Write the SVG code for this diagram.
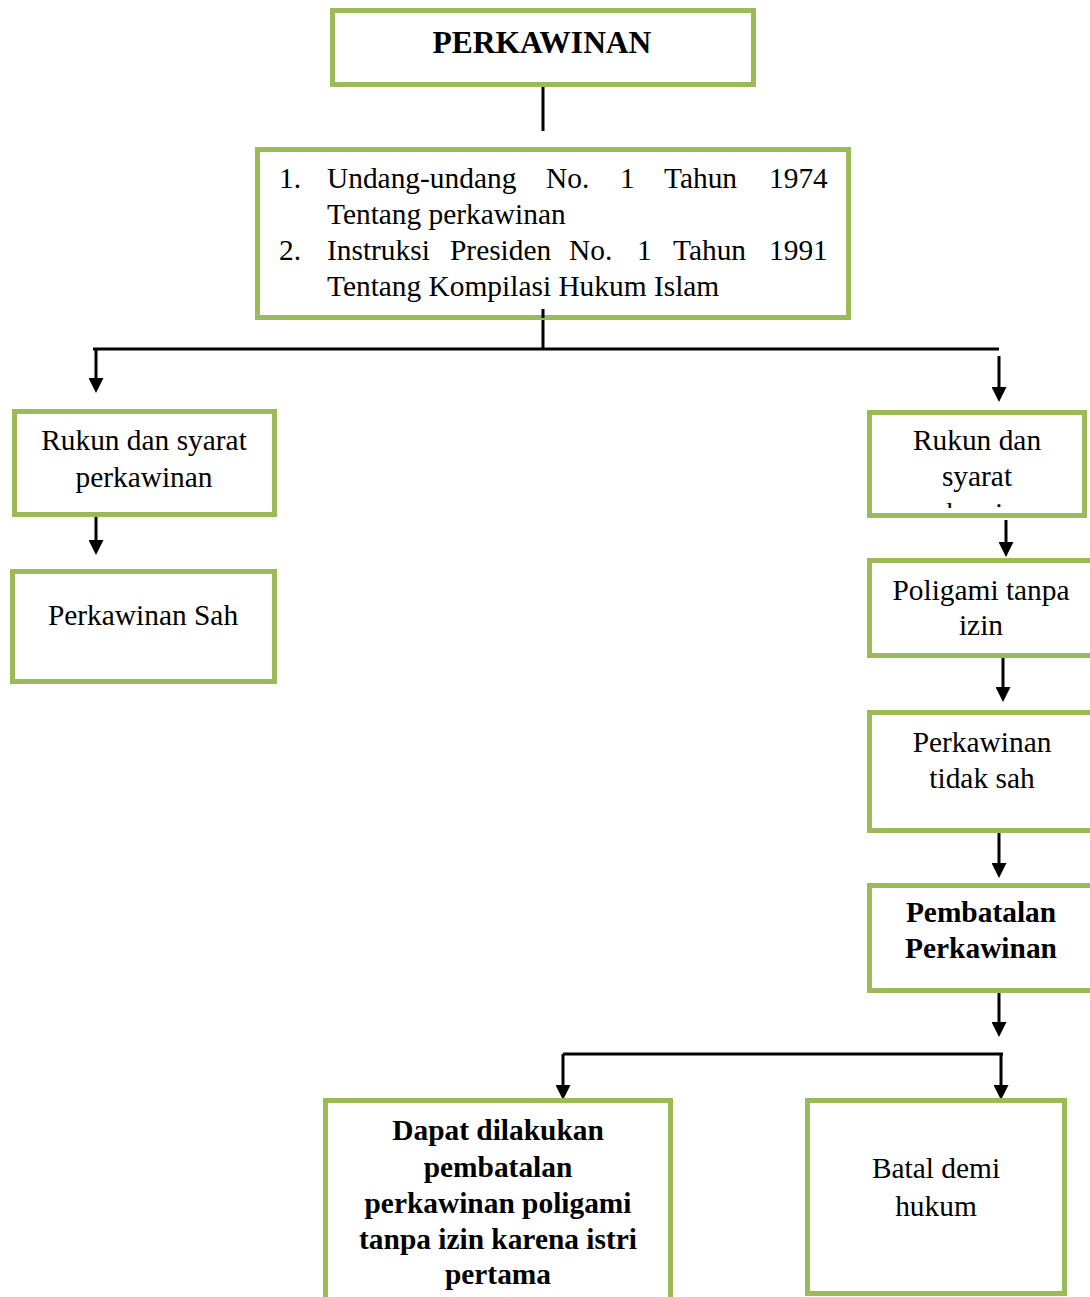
<svg xmlns="http://www.w3.org/2000/svg" width="1090" height="1297" viewBox="0 0 1090 1297">
<style>
.box{fill:#fff;stroke:#9BBB59;stroke-width:5}
.t{font-family:"Liberation Serif","Times New Roman",serif;font-size:29.4px;fill:#000}
.c{text-anchor:middle}
.b{font-weight:bold}
.big{font-size:31.5px}
.conn{stroke:#000;stroke-width:3;fill:none}
</style>
<defs>
<marker id="ah" markerUnits="userSpaceOnUse" markerWidth="15" markerHeight="15" refX="7" refY="7.5" orient="auto">
<path d="M0,0 L15,7.5 L0,15 z" fill="#000"/>
</marker>
<clipPath id="clipR"><rect x="870" y="490" width="215" height="18"/></clipPath>
</defs>
<rect width="1090" height="1297" fill="#fff"/>

<g id="connectors">
<line class="conn" x1="543" y1="87" x2="543" y2="131"/>
<line class="conn" x1="543" y1="310" x2="543" y2="349"/>
<line class="conn" x1="93" y1="349" x2="999" y2="349"/>
<line class="conn" x1="96" y1="349" x2="96" y2="385" marker-end="url(#ah)"/>
<line class="conn" x1="999" y1="356" x2="999" y2="394" marker-end="url(#ah)"/>
<line class="conn" x1="96" y1="517" x2="96" y2="547" marker-end="url(#ah)"/>
<line class="conn" x1="1006" y1="520" x2="1006" y2="549" marker-end="url(#ah)"/>
<line class="conn" x1="1003" y1="657" x2="1003" y2="694" marker-end="url(#ah)"/>
<line class="conn" x1="999" y1="833" x2="999" y2="870" marker-end="url(#ah)"/>
<line class="conn" x1="999" y1="993" x2="999" y2="1029" marker-end="url(#ah)"/>
<line class="conn" x1="563" y1="1054" x2="1003" y2="1054"/>
<line class="conn" x1="563" y1="1054" x2="563" y2="1092" marker-end="url(#ah)"/>
<line class="conn" x1="1001" y1="1054" x2="1001" y2="1092" marker-end="url(#ah)"/>
</g>

<g id="perkawinan">
<rect class="box" x="332.5" y="10.5" width="421" height="74"/>
<text class="t b c big" x="542" y="53">PERKAWINAN</text>
</g>

<g id="dasar-hukum">
<rect class="box" x="257.5" y="149.5" width="591" height="168"/>
<line class="conn" x1="543" y1="309" x2="543" y2="318"/>
<text class="t" y="188"><tspan x="279">1.</tspan><tspan x="327">Undang-undang</tspan><tspan x="546">No.</tspan><tspan x="620">1</tspan><tspan x="664">Tahun</tspan><tspan x="769">1974</tspan></text>
<text class="t" x="327" y="224">Tentang perkawinan</text>
<text class="t" y="260"><tspan x="279">2.</tspan><tspan x="327">Instruksi</tspan><tspan x="450">Presiden</tspan><tspan x="569">No.</tspan><tspan x="637">1</tspan><tspan x="673">Tahun</tspan><tspan x="769">1991</tspan></text>
<text class="t" x="327" y="296">Tentang Kompilasi Hukum Islam</text>
</g>

<g id="rukun-kiri">
<rect class="box" x="14.5" y="411.5" width="260" height="103"/>
<text class="t c" x="144" y="450">Rukun dan syarat</text>
<text class="t c" x="144" y="487">perkawinan</text>
</g>

<g id="perkawinan-sah">
<rect class="box" x="12.5" y="571.5" width="262" height="110"/>
<text class="t c" x="143" y="625">Perkawinan Sah</text>
</g>

<g id="rukun-kanan">
<rect class="box" x="869.5" y="412.5" width="215" height="103"/>
<text class="t c" x="977" y="450">Rukun dan</text>
<text class="t c" x="977" y="486">syarat</text>
<text class="t c" x="977" y="523" clip-path="url(#clipR)">perkawinan</text>
</g>

<g id="poligami">
<rect class="box" x="869.5" y="560.5" width="240" height="95"/>
<text class="t c" x="981" y="600">Poligami tanpa</text>
<text class="t c" x="981" y="635">izin</text>
</g>

<g id="tidak-sah">
<rect class="box" x="869.5" y="712.5" width="240" height="118"/>
<text class="t c" x="982" y="752">Perkawinan</text>
<text class="t c" x="982" y="788">tidak sah</text>
</g>

<g id="pembatalan">
<rect class="box" x="869.5" y="885.5" width="240" height="105"/>
<text class="t b c" x="981" y="922">Pembatalan</text>
<text class="t b c" x="981" y="958">Perkawinan</text>
</g>

<g id="dapat-dilakukan">
<rect class="box" x="325.5" y="1100.5" width="345" height="230"/>
<text class="t b c" x="498" y="1140">Dapat dilakukan</text>
<text class="t b c" x="498" y="1177">pembatalan</text>
<text class="t b c" x="498" y="1213">perkawinan poligami</text>
<text class="t b c" x="498" y="1249">tanpa izin karena istri</text>
<text class="t b c" x="498" y="1284">pertama</text>
</g>

<g id="batal-demi-hukum">
<rect class="box" x="807.5" y="1100.5" width="257" height="193"/>
<text class="t c" x="936" y="1178">Batal demi</text>
<text class="t c" x="936" y="1216">hukum</text>
</g>
</svg>
